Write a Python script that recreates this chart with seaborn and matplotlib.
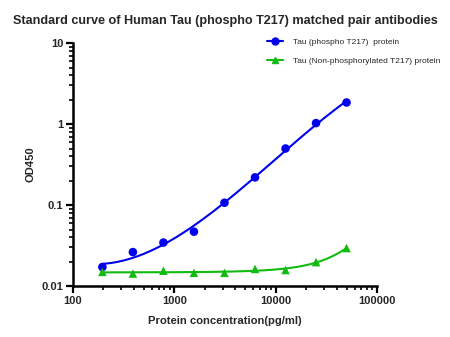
import numpy as np
import pandas as pd
import matplotlib
matplotlib.use("Agg")
import matplotlib.pyplot as plt
import seaborn as sns
from matplotlib.lines import Line2D
from matplotlib.ticker import LogLocator, FixedLocator, FixedFormatter, NullFormatter

# Standard dilution series (pg/ml) and measured OD450
conc = [195.3, 390.6, 781.25, 1562.5, 3125, 6250, 12500, 25000, 50000]
od_phospho = [0.0172, 0.0263, 0.0345, 0.047, 0.107, 0.22, 0.50, 1.03, 1.85]
od_nonphospho = [0.0150, 0.0143, 0.0155, 0.0146, 0.0146, 0.0163, 0.0158, 0.0198, 0.0295]

label_p = "Tau (phospho T217)  protein"
label_n = "Tau (Non-phosphorylated T217) protein"

sns.set_style("ticks")
plt.rcParams['font.family'] = ['Liberation Sans', 'DejaVu Sans']

fig = plt.figure(figsize=(4.5, 3.37), dpi=100)
ax = fig.add_axes([0.162, 0.151, 0.676, 0.721])

blue = "#0000ee"
green = "#11bb11"

x = np.array(conc, dtype=float)
xs = np.logspace(np.log10(x.min()), np.log10(x.max()), 200)

# smooth fitted curves
cp = np.polyfit(np.log10(x), np.log10(od_phospho), 3)
fit_p = 10 ** np.polyval(cp, np.log10(xs))
cn = np.polyfit(x, od_nonphospho, 2)
fit_n = np.polyval(cn, xs)

fits = pd.DataFrame({"x": np.concatenate([xs, xs]),
                     "y": np.concatenate([fit_p, fit_n]),
                     "s": [label_p] * len(xs) + [label_n] * len(xs)})
pts = pd.DataFrame({"x": conc + conc,
                    "y": od_phospho + od_nonphospho,
                    "s": [label_p] * len(conc) + [label_n] * len(conc)})
pal = {label_p: blue, label_n: green}

sns.lineplot(data=fits, x="x", y="y", hue="s", palette=pal, lw=1.5,
             legend=False, ax=ax)
sns.scatterplot(data=pts, x="x", y="y", hue="s", style="s",
                markers={label_p: "o", label_n: "^"}, palette=pal, s=38,
                edgecolor="none", legend=False, ax=ax)

ax.set_xscale("log")
ax.set_yscale("log")
ax.set_xlim(100, 100000)
ax.set_ylim(0.01, 10)

xt = [100, 1000, 10000, 100000]
yt = [0.01, 0.1, 1, 10]
ax.xaxis.set_major_locator(FixedLocator(xt))
ax.xaxis.set_major_formatter(FixedFormatter(["100", "1000", "10000", "100000"]))
ax.yaxis.set_major_locator(FixedLocator(yt))
ax.yaxis.set_major_formatter(FixedFormatter(["0.01", "0.1", "1", "10"]))
ax.xaxis.set_minor_locator(LogLocator(base=10, subs=np.arange(2, 10)))
ax.yaxis.set_minor_locator(LogLocator(base=10, subs=np.arange(2, 10)))
ax.xaxis.set_minor_formatter(NullFormatter())
ax.yaxis.set_minor_formatter(NullFormatter())

for side in ["top", "right"]:
    ax.spines[side].set_visible(False)
for side in ["left", "bottom"]:
    ax.spines[side].set_linewidth(1.8)
    ax.spines[side].set_color("black")

ax.tick_params(which="major", length=5, width=1.6, labelsize=8, pad=2, color="black")
ax.tick_params(which="minor", length=3, width=1.2, color="black")
for lab in ax.get_xticklabels() + ax.get_yticklabels():
    lab.set_fontweight("bold")

ax.set_xlabel("Protein concentration(pg/ml)", fontsize=8.1, fontweight="bold", labelpad=7)
ax.set_ylabel("OD450", fontsize=8, fontweight="bold", labelpad=4)

fig.text(0.5, 0.938,
         "Standard curve of Human Tau (phospho T217) matched pair antibodies",
         fontsize=9.1, fontweight="bold", ha="center", va="center")

handles = [Line2D([], [], color=blue, marker="o", lw=1.5, ms=5),
           Line2D([], [], color=green, marker="^", lw=1.5, ms=5)]
fig.legend(handles, [label_p, label_n], loc="upper left", frameon=False,
           fontsize=6, handlelength=1.9, handletextpad=1.2, labelspacing=1.3,
           borderpad=0, borderaxespad=0, bbox_to_anchor=(0.593, 0.887))

fig.savefig("out.png", dpi=100)
